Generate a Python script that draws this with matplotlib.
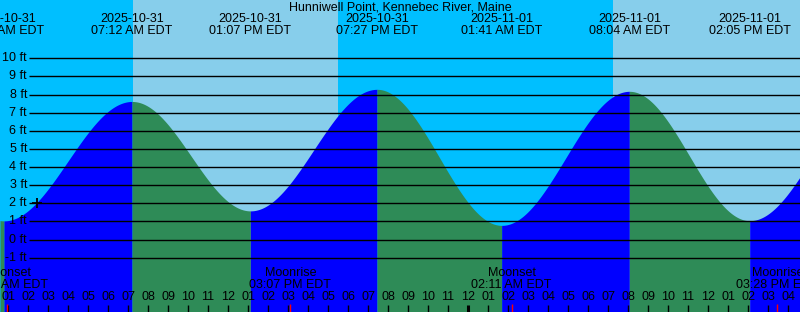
#!/usr/bin/python3
# coding=utf-8

import numpy as np
import matplotlib
matplotlib.use("Agg")
import matplotlib.pyplot as plt

# ----- Data (hours since 2025-10-31 00:00 EDT) -----

station = "Hunniwell Point, Kennebec River, Maine"

# tide extremes (first and last lie outside the visible window)
tide_hours = [-5.42, 0.80, 7.20, 13.117, 19.45, 25.683, 32.067, 38.083, 44.42]
tide_feet = [7.9, 1.03, 7.62, 1.58, 8.29, 0.78, 8.18, 1.04, 8.1]
tide_dates = ["2025-10-30", "2025-10-31", "2025-10-31", "2025-10-31",
              "2025-10-31", "2025-11-01", "2025-11-01", "2025-11-01",
              "2025-11-01"]
tide_times = ["06:25 PM EDT", "12:48 AM EDT", "07:12 AM EDT", "01:07 PM EDT",
              "07:27 PM EDT", "01:41 AM EDT", "08:04 AM EDT", "02:05 PM EDT",
              "08:25 PM EDT"]

# sunrise / sunset
sunrise_hours = [7.23, 31.25]
sunset_hours = [17.5]

# moon events
moon_hours = [0.967, 15.117, 26.183, 39.467]
moon_names = ["Moonset", "Moonrise", "Moonset", "Moonrise"]
moon_times = ["12:58 AM EDT", "03:07 PM EDT", "02:11 AM EDT", "03:28 PM EDT"]

# marker of the current time
now_hour = 2.45
now_feet = 2.0

level_ticks = list(range(-1, 11))

# view window
t_start, t_end = 0.6, 40.6
ft_bottom, ft_top = -4.0, 13.22

SKY_DAY = "#87CEEB"
SKY_NIGHT = "#00BFFF"
FLOOD = "#0000FF"
EBB = "#2E8B57"
FONT = ["Liberation Sans", "DejaVu Sans"]
FS = 9.0


def tide_level(t):
    """ Polovicni kosinova interpolace mezi extremy """
    ext_t = np.array(tide_hours)
    ext_h = np.array(tide_feet)
    i = np.clip(np.searchsorted(ext_t, t) - 1, 0, len(ext_t) - 2)
    f = (t - ext_t[i]) / (ext_t[i + 1] - ext_t[i])
    return ext_h[i] + (ext_h[i + 1] - ext_h[i]) * (1 - np.cos(np.pi * f)) / 2


def plot_tide(fig_location="out.png"):
    fig = plt.figure(figsize=(8, 3.12), dpi=100)
    ax = fig.add_axes([0, 0, 1, 1])
    ax.set_xlim(t_start, t_end)
    ax.set_ylim(ft_bottom, ft_top)
    ax.axis("off")

    # obloha: noc / den
    edges = [t_start] + sorted(sunrise_hours + sunset_hours) + [t_end]
    night = True
    for a, b in zip(edges[:-1], edges[1:]):
        ax.axvspan(a, b, color=SKY_NIGHT if night else SKY_DAY, lw=0,
                   zorder=0)
        night = not night

    # voda: priliv modre, odliv zelene
    for k in range(len(tide_hours) - 1):
        a = max(tide_hours[k], t_start)
        b = min(tide_hours[k + 1], t_end)
        if a >= b:
            continue
        tt = np.linspace(a, b, 300)
        rising = tide_feet[k + 1] > tide_feet[k]
        ax.fill_between(tt, tide_level(tt), ft_bottom, lw=0,
                        color=FLOOD if rising else EBB, zorder=1)

    # vodorovne cary a popisky hladin
    for lv in level_ticks:
        ax.plot([29 / 800, 1], [lv, lv], color="black", lw=1.0,
                transform=ax.get_yaxis_transform(), zorder=2,
                solid_capstyle="butt")
        ax.text(27 / 800, lv, f"{lv} ft", ha="right", va="center",
                transform=ax.get_yaxis_transform(), family=FONT,
                fontsize=FS, zorder=3)

    ax.plot([now_hour], [now_feet], marker="+", color="black", ms=7.5,
            mew=1.3, zorder=4)

    # popisky extremu nahore
    xt = ax.get_xaxis_transform()
    for t, d, s in zip(tide_hours, tide_dates, tide_times):
        ax.text(t, 1 - 19.5 / 312, d, ha="center", va="center",
                transform=xt, family=FONT, fontsize=FS, zorder=3)
        ax.text(t, 1 - 31.5 / 312, s, ha="center", va="center",
                transform=xt, family=FONT, fontsize=FS, zorder=3)

    fig.text(0.5, 1 - 7.5 / 312, station, ha="center", va="center",
             family=FONT, fontsize=FS)

    # mesic
    for t, n, s in zip(moon_hours, moon_names, moon_times):
        ax.text(t, 1 - 273.5 / 312, n, ha="center", va="center",
                transform=xt, family=FONT, fontsize=FS, zorder=3)
        ax.text(t, 1 - 285.5 / 312, s, ha="center", va="center",
                transform=xt, family=FONT, fontsize=FS, zorder=3)
        ax.plot([t, t], [0, 8 / 312], color="red", lw=1.0, transform=xt,
                zorder=4, solid_capstyle="butt")

    # hodiny
    for hr in range(int(np.ceil(t_start)), int(t_end) + 1):
        label = f"{(hr % 12) or 12:02d}"
        ax.text(hr, 1 - 297.5 / 312, label, ha="center", va="center",
                transform=xt, family=FONT, fontsize=FS, zorder=3)
        midnight = hr % 24 == 0
        ax.plot([hr, hr], [0, 7 / 312], color="black",
                lw=2.2 if midnight else 1.0, transform=xt, zorder=3,
                solid_capstyle="butt")

    fig.savefig(fig_location, dpi=100)


if __name__ == "__main__":
    plot_tide("out.png")
